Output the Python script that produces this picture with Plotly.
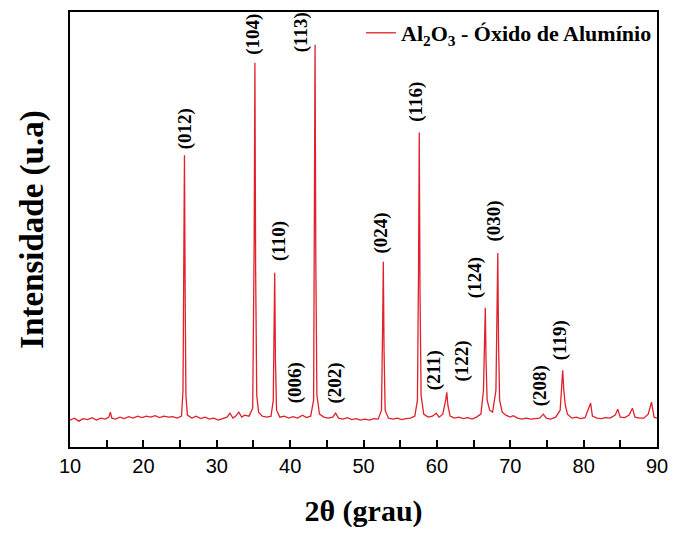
import plotly.graph_objects as go

two_theta = [
    10.0, 10.6, 11.2, 11.8, 12.4, 13.0, 13.6, 14.2, 14.8, 15.3, 15.5, 15.7, 16.2, 16.8, 17.4, 18.0,
    18.6, 19.2, 19.8, 20.4, 21.0, 21.6, 22.2, 22.8, 23.4, 24.0, 24.6, 25.2, 25.4, 25.5, 25.6, 25.7,
    25.8, 26.0, 26.6, 27.2, 27.8, 28.4, 29.0, 29.6, 30.2, 30.8, 31.4, 31.8, 32.2, 32.6, 33.0, 33.4,
    33.8, 34.4, 34.9, 35.1, 35.2, 35.3, 35.45, 35.7, 36.2, 36.8, 37.4, 37.7, 37.8, 37.9, 38.0, 38.15,
    38.6, 39.2, 39.8, 40.4, 41.0, 41.7, 42.2, 42.8, 43.2, 43.3, 43.4, 43.5, 43.65, 44.0, 44.6, 45.2,
    45.8, 46.2, 46.6, 47.2, 47.8, 48.4, 49.0, 49.6, 50.2, 50.8, 51.4, 52.0, 52.45, 52.6, 52.7, 52.8,
    52.95, 53.4, 54.0, 54.6, 55.2, 55.8, 56.4, 57.0, 57.35, 57.5, 57.6, 57.7, 57.85, 58.2, 58.8, 59.4,
    59.9, 60.3, 60.8, 61.2, 61.35, 61.5, 61.8, 62.4, 63.0, 63.6, 64.2, 64.8, 65.4, 66.0, 66.35, 66.5,
    66.6, 66.7, 66.85, 67.2, 67.6, 68.05, 68.2, 68.3, 68.4, 68.55, 68.9, 69.4, 70.0, 70.4, 71.0, 71.6,
    72.2, 72.8, 73.4, 74.0, 74.5, 74.9, 75.5, 76.2, 76.8, 77.0, 77.15, 77.3, 77.5, 77.8, 78.4, 79.0,
    79.6, 80.2, 80.7, 80.95, 81.2, 81.8, 82.4, 83.0, 83.6, 84.3, 84.65, 85.0, 85.6, 86.2, 86.65, 87.0,
    87.6, 88.2, 88.8, 89.25, 89.6, 90.0,
]
intensity = [
    0, 20, -10, 15, 5, 25, 0, 20, 10, 30, 80, 20, 10, 30, 15, 35,
    20, 40, 25, 40, 30, 45, 25, 40, 30, 35, 20, 40, 300, 1500, 2660, 1200,
    250, 50, 20, 40, 15, 30, 10, 20, 0, 15, 30, 70, 20, 40, 80, 30,
    50, 40, 120, 1800, 3590, 1500, 250, 80, 40, 30, 40, 200, 900, 1480, 600, 100,
    30, 40, 20, 35, 20, 50, 25, 40, 200, 1900, 3770, 1600, 250, 60, 30, 20,
    30, 70, 20, 10, 25, 5, 15, 0, 10, 0, 15, 10, 100, 900, 1590, 700,
    100, 20, 10, 20, 5, 15, 20, 40, 200, 1500, 2890, 1300, 250, 60, 30, 40,
    70, 30, 60, 200, 280, 150, 40, 20, 30, 15, 25, 10, 30, 60, 300, 800,
    1130, 600, 200, 100, 80, 300, 1200, 1680, 800, 200, 80, 50, 30, 45, 20, 10,
    20, 10, 15, 20, 60, 20, 10, 30, 100, 350, 500, 300, 150, 60, 20, 30,
    15, 25, 120, 170, 40, 20, 15, 25, 20, 50, 110, 30, 25, 50, 120, 30,
    20, 20, 60, 180, 30, 20,
]

# Miller-index labels and where they sit (data coords: centre x, bottom y)
hkl_labels = ["(012)", "(104)", "(110)", "(006)", "(113)", "(202)", "(024)",
              "(116)", "(211)", "(122)", "(124)", "(030)", "(208)", "(119)"]
label_x = [25.6, 35.0, 38.5, 40.6, 41.4, 46.1, 52.4, 57.2, 59.6, 63.4, 65.2, 67.8, 74.0, 76.9]
label_y = [2700, 3650, 1580, 150, 3680, 150, 1650, 2980, 280, 370, 1200, 1770, 120, 580]

x_ticks = [10, 20, 30, 40, 50, 60, 70, 80, 90]

SERIF = "Liberation Serif, Times New Roman, serif"

fig = go.Figure()
fig.add_trace(go.Scatter(
    x=two_theta, y=intensity, mode="lines",
    line=dict(color="#e0202a", width=1.3),
    name="<b>Al<sub>2</sub>O<sub>3</sub> - Óxido de Alumínio</b>",
))

for t, lx, ly in zip(hkl_labels, label_x, label_y):
    fig.add_annotation(
        x=lx, y=ly, xref="x", yref="y", text="<b>" + t + "</b>",
        showarrow=False, textangle=-90, yanchor="bottom", xanchor="center",
        font=dict(family=SERIF, size=19, color="black"),
    )

fig.update_layout(
    width=678, height=533,
    margin=dict(l=70, r=15, t=10, b=86),
    paper_bgcolor="white", plot_bgcolor="white",
    showlegend=True,
    legend=dict(x=1, y=1, xanchor="right", yanchor="top",
                bgcolor="rgba(0,0,0,0)",
                font=dict(family=SERIF, size=22, color="black")),
    xaxis=dict(
        range=[10, 90], tickvals=x_ticks, ticks="inside", ticklen=7, tickwidth=2,
        tickcolor="black",
        minor=dict(dtick=5, tick0=5, ticks="inside", ticklen=7, tickwidth=2, tickcolor="black"),
        showline=True, linewidth=2, linecolor="black", mirror=True,
        showgrid=False, zeroline=False,
        tickfont=dict(family="Liberation Sans, Arial, sans-serif", size=20, color="black"),
        title=dict(text="<b>2θ (grau)</b>", font=dict(family=SERIF, size=30, color="black"),
                   standoff=24),
    ),
    yaxis=dict(
        range=[-270, 4100], showticklabels=False, ticks="",
        showline=True, linewidth=2, linecolor="black", mirror=True,
        showgrid=False, zeroline=False,
        title=dict(text="<b>Intensidade (u.a)</b>", font=dict(family=SERIF, size=33, color="black"),
                   standoff=14),
    ),
)

fig.write_html("out.html")
